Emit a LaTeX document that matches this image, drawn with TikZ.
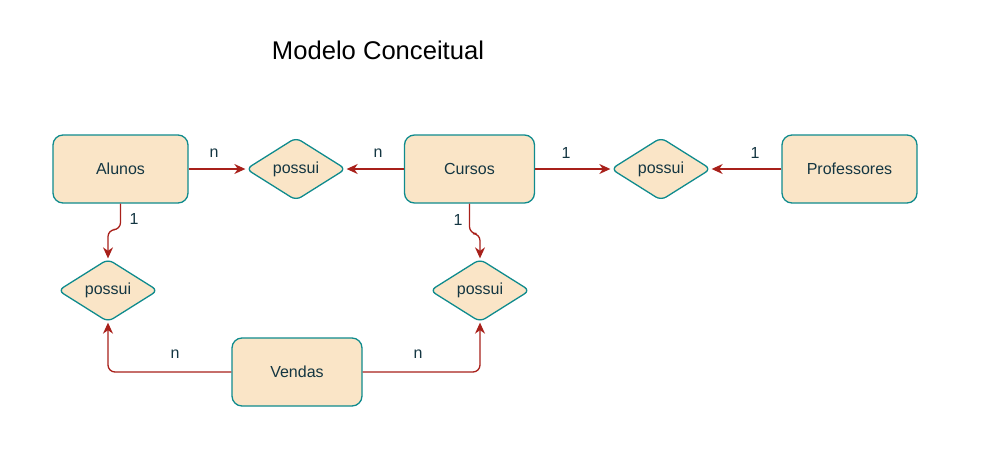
\documentclass[tikz,border=0pt]{standalone}
\usepackage{fontspec}
\setmainfont{Liberation Sans}
\usetikzlibrary{shapes.geometric,arrows.meta}
\definecolor{boxfill}{HTML}{FAE5C7}
\definecolor{boxline}{HTML}{0F8B8D}
\definecolor{boxtext}{HTML}{143642}
\definecolor{edgecol}{HTML}{A8201A}
\tikzset{
  entity/.style={draw=boxline, fill=boxfill, text=boxtext, line width=1.3pt,
    rounded corners=10pt, minimum height=68pt, inner sep=0pt,
    font=\fontsize{16}{19}\selectfont},
  rel/.style={diamond, draw=boxline, fill=boxfill, text=boxtext, line width=1.3pt,
    rounded corners=6pt, minimum width=100pt, minimum height=63pt, inner sep=0pt,
    aspect=1.6, font=\fontsize{16}{19}\selectfont},
  conn/.style={draw=edgecol, line width=1.3pt, rounded corners=7pt,
    -{Stealth[length=11pt,width=10pt,inset=3.5pt]}},
  card/.style={text=boxtext, font=\fontsize{16}{19}\selectfont, inner sep=0pt}
}
\begin{document}
\begin{tikzpicture}[x=1pt,y=-1pt]
\useasboundingbox (0,0) rectangle (1002,469);
\node[font=\fontsize{25.6}{30}\selectfont, text=black] (title) at (378,50) {Modelo Conceitual};

\node[entity, minimum width=135pt] (alunos) at (120.5,169) {Alunos};
\node[rel] (d1) at (296,169) {possui};
\node[entity, minimum width=130pt] (cursos) at (469.5,169) {Cursos};
\node[rel] (d2) at (661,169) {possui};
\node[entity, minimum width=135pt] (prof) at (849.5,169) {Professores};
\node[rel] (d3) at (108,290.5) {possui};
\node[rel] (d4) at (480,290.5) {possui};
\node[entity, minimum width=130pt] (vendas) at (297,372) {Vendas};

\draw[conn] (alunos.east) -- (d1.west);
\draw[conn] (cursos.west) -- (d1.east);
\draw[conn] (cursos.east) -- (d2.west);
\draw[conn] (prof.west) -- (d2.east);
\draw[conn] (alunos.south) -- ++(0,26) -| (d3.north);
\draw[conn] (cursos.south) -- ++(0,30) -| (d4.north);
\draw[conn] (vendas.west) -| (d3.south);
\draw[conn] (vendas.east) -| (d4.south);

\node[card] (l1) at (214,153) {n};
\node[card] (l2) at (378,153) {n};
\node[card] (l3) at (566,153) {1};
\node[card] (l4) at (755,153) {1};
\node[card] (l5) at (134,219) {1};
\node[card] (l6) at (458,220) {1};
\node[card] (l7) at (175,354) {n};
\node[card] (l8) at (418,354) {n};
\end{tikzpicture}
\end{document}
